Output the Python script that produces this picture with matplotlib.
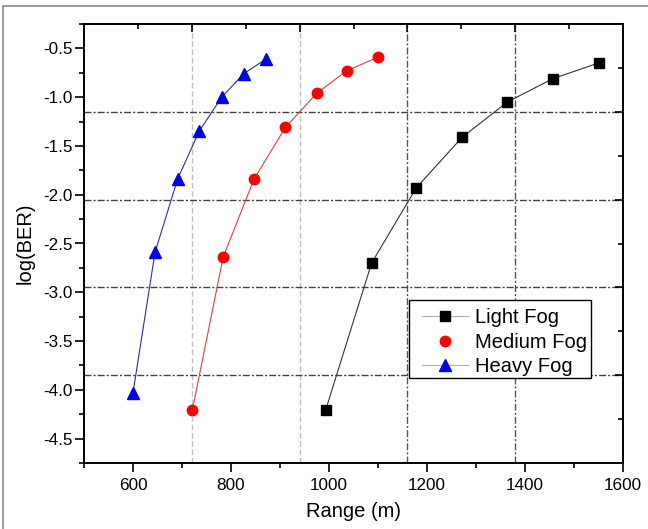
import matplotlib
matplotlib.use("Agg")
import matplotlib.pyplot as plt
from matplotlib.ticker import MultipleLocator, FixedLocator, NullFormatter
from matplotlib.patches import Rectangle

plt.rcParams['font.family'] = ['Liberation Sans', 'DejaVu Sans']

# Data
light_x = [993, 1087, 1178, 1272, 1364, 1457, 1550]
light_y = [-4.21, -2.70, -1.93, -1.41, -1.05, -0.81, -0.65]
medium_x = [721, 784, 847, 911, 975, 1036, 1100]
medium_y = [-4.21, -2.64, -1.84, -1.31, -0.96, -0.73, -0.59]
heavy_x = [600, 645, 691, 735, 781, 826, 871]
heavy_y = [-4.03, -2.59, -1.84, -1.35, -1.00, -0.76, -0.61]
labels = ["Light Fog", "Medium Fog", "Heavy Fog"]
xticks = [600, 800, 1000, 1200, 1400, 1600]
yticks = [-0.5, -1.0, -1.5, -2.0, -2.5, -3.0, -3.5, -4.0, -4.5]

fig = plt.figure(figsize=(6.48, 5.29), dpi=100)
W, H = 648, 529
AX_L, AX_R, AX_T, AX_B = 84, 623, 24, 463
ax = fig.add_axes([AX_L / W, 1 - AX_B / H, (AX_R - AX_L) / W, (AX_B - AX_T) / H])

# outer frame
fig.patches.append(Rectangle((3 / W, -0.05), 1.2, 1 - 6 / H + 0.05,
                             transform=fig.transFigure, fill=False,
                             edgecolor='#8a8a8a', lw=1.2, zorder=0))

ax.set_xlim(500, 1600)
ax.set_ylim(-4.75, -0.25)

# twin axes for top / right ticks (10 divisions)
axt = ax.twiny()
axt.set_xlim(0, 1)
axr = ax.twinx()
axr.set_ylim(0, 1)
for a, which in ((axt, 'x'), (axr, 'y')):
    axis = a.xaxis if which == 'x' else a.yaxis
    axis.set_major_locator(FixedLocator([0.2, 0.4, 0.6, 0.8]))
    axis.set_minor_locator(FixedLocator([0.1, 0.3, 0.5, 0.7, 0.9]))
    axis.set_major_formatter(NullFormatter())
    a.tick_params(axis=which, which='major', direction='in', length=6, width=1.2)
    a.tick_params(axis=which, which='minor', direction='in', length=3.8, width=1.2)
for a in (axt, axr):
    for s in a.spines.values():
        s.set_visible(False)

# grid lines (positions in axes fraction)
for f, col, ls in ((0.2, '#c0c0c0', (0, (4, 2))), (0.4, '#c0c0c0', (0, (4, 2))),
                   (0.6, '#555555', (0, (5, 1.5, 1.5, 1.5))), (0.8, '#555555', (0, (5, 1.5, 1.5, 1.5)))):
    axt.axvline(f, color=col, lw=1.0, ls=ls, zorder=0)
for f in (0.2, 0.4, 0.6, 0.8):
    axr.axhline(f, color='#444444', lw=1.0, ls=(0, (5, 1.5, 1.5, 1.5)), zorder=0)

l1, = ax.plot(light_x, light_y, color='#333333', lw=0.8, marker='s', ms=7,
              mfc='black', mec='black', label=labels[0], zorder=5)
l2, = ax.plot(medium_x, medium_y, color='#e04040', lw=0.8, marker='o', ms=7.5,
              mfc='red', mec='red', label=labels[1], zorder=5)
l3, = ax.plot(heavy_x, heavy_y, color='#303090', lw=0.8, marker='^', ms=8.5,
              mfc='#0000ee', mec='#0000ee', label=labels[2], zorder=5)
ax.set_zorder(axr.get_zorder() + 1)
ax.patch.set_visible(False)

ax.xaxis.set_major_locator(FixedLocator(xticks))
ax.xaxis.set_minor_locator(MultipleLocator(100))
ax.yaxis.set_major_locator(FixedLocator(yticks))
ax.yaxis.set_minor_locator(MultipleLocator(0.25))
ax.tick_params(which='major', direction='out', length=6.5, width=1.2, labelsize=12.3)
ax.tick_params(which='minor', direction='out', length=3.8, width=1.2)
ax.tick_params(axis='x', which='major', pad=4)
ax.tick_params(axis='y', which='major', pad=1.8)
ax.set_yticklabels([f"{v:.1f}" for v in yticks])
for s in ax.spines.values():
    s.set_linewidth(1.4)

ax.set_xlabel("Range (m)", fontsize=14.5, labelpad=7)
ax.set_ylabel("log(BER)", fontsize=14.5, labelpad=6)

# legend contents (no frame) plus a separate frame box
aw, ah = AX_R - AX_L, AX_B - AX_T
leg = ax.legend(handles=[l1, l2, l3], loc='upper left',
                bbox_to_anchor=((422 - AX_L) / aw, (AX_B - 308) / ah),
                borderaxespad=0, fontsize=14.5, frameon=False,
                handlelength=2.3, handletextpad=0.33, labelspacing=0.28,
                borderpad=0)
for h in leg.get_lines():
    h.set_color('#b0b0b0')
    h.set_linewidth(0.8)
leg.get_lines()[1].set_linestyle('none')
leg.set_zorder(11)
ax.add_patch(Rectangle(((409 - AX_L) / aw, (AX_B - 378) / ah), 182 / aw, 78 / ah,
                       transform=ax.transAxes, facecolor='white', edgecolor='black',
                       lw=1.0, zorder=10))

fig.savefig("out.png", dpi=100)
